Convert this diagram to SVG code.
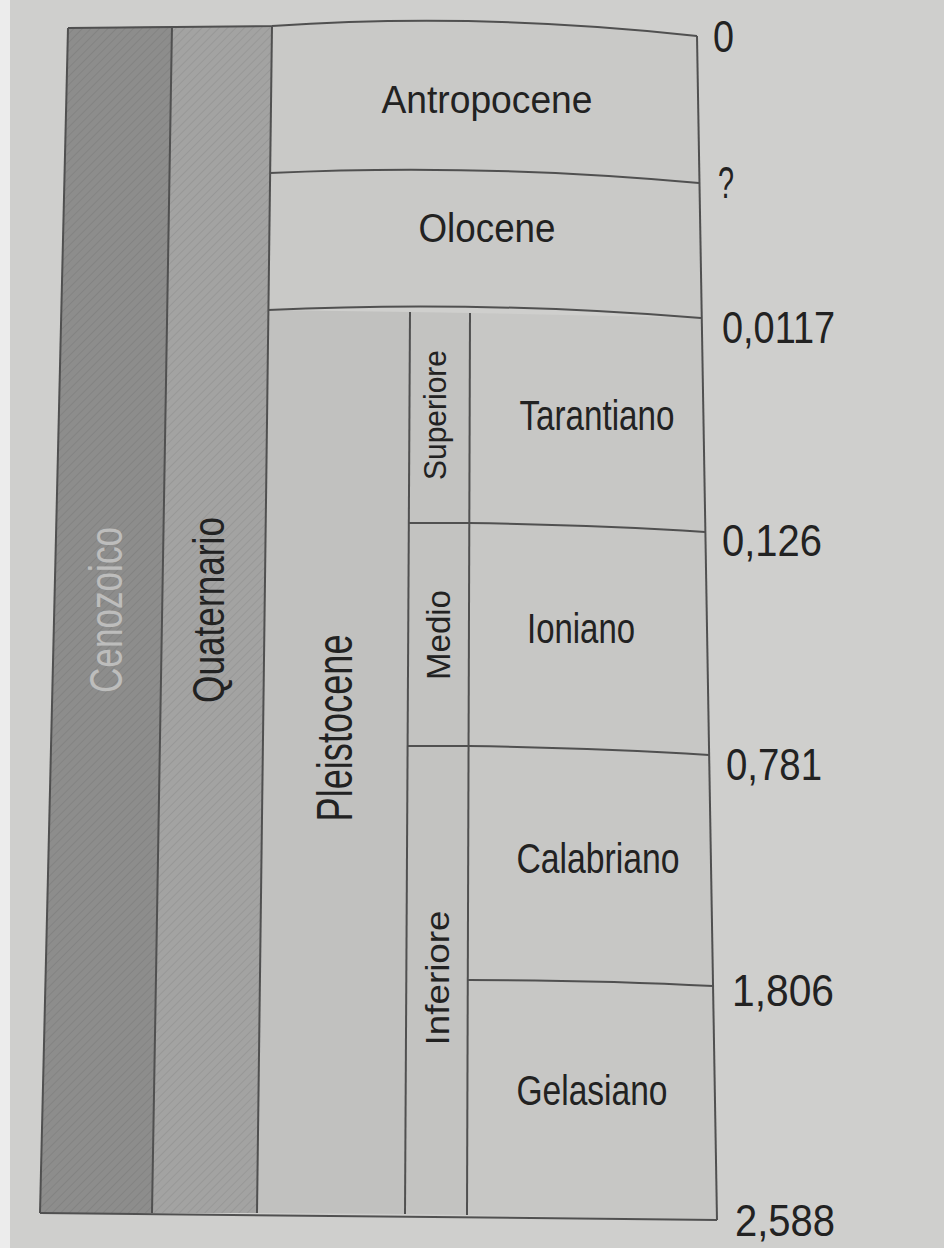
<svg xmlns="http://www.w3.org/2000/svg" width="944" height="1248" viewBox="0 0 944 1248">
<defs>
<pattern id="hatch" width="6" height="6" patternUnits="userSpaceOnUse" patternTransform="rotate(45)">
<line x1="0" y1="0" x2="0" y2="6" stroke="#000" stroke-opacity="0.07" stroke-width="2"/>
</pattern>
<style>
.ln{fill:none;stroke:#505050;stroke-width:2}
.t{font-family:"Liberation Sans",Arial,sans-serif;fill:#222;text-anchor:middle}
.n{font-family:"Liberation Sans",Arial,sans-serif;fill:#222;font-size:45px}
</style>
</defs>
<rect x="0" y="0" width="944" height="1248" fill="#cfcfcd"/>
<rect x="0" y="0" width="10" height="1248" fill="#ececec"/>
<g id="cenozoico">
<path d="M68,28 L172,26 L152,1213 L40,1213 Z" fill="#8d8d8c"/>
<path d="M68,28 L172,26 L152,1213 L40,1213 Z" fill="url(#hatch)"/>
<text class="t" transform="translate(122,610) rotate(-90)" font-size="46" textLength="166" lengthAdjust="spacingAndGlyphs" style="fill:#bdbdbc">Cenozoico</text>
</g>
<g id="quaternario">
<path d="M172,26 L272,26 L257,1213 L152,1213 Z" fill="#a3a3a2"/>
<path d="M172,26 L272,26 L257,1213 L152,1213 Z" fill="url(#hatch)"/>
<text class="t" transform="translate(224,610) rotate(-90)" font-size="45" textLength="186" lengthAdjust="spacingAndGlyphs">Quaternario</text>
</g>
<g id="antropocene">
<path d="M272,26 Q480,12 697,36 L699,183 Q480,163 270,173 Z" fill="#c9c9c7"/>
<text class="t" x="487" y="113" font-size="39" textLength="211" lengthAdjust="spacingAndGlyphs">Antropocene</text>
</g>
<g id="olocene">
<path d="M270,173 Q480,163 699,183 L701,318 Q480,300 268,310 Z" fill="#c9c9c7"/>
<text class="t" x="487" y="242" font-size="41" textLength="137" lengthAdjust="spacingAndGlyphs">Olocene</text>
</g>
<g id="pleistocene">
<path d="M268,310 L410,312 L405,1214 L257,1213 Z" fill="#c1c1bf"/>
<text class="t" transform="translate(352,728) rotate(-90)" font-size="50" textLength="187" lengthAdjust="spacingAndGlyphs">Pleistocene</text>
</g>
<g id="superiore">
<path d="M410,312 L470,313 L469,523 L409,523 Z" fill="#c3c3c1"/>
<text class="t" transform="translate(446,415) rotate(-90)" font-size="32" textLength="130" lengthAdjust="spacingAndGlyphs">Superiore</text>
</g>
<g id="medio">
<path d="M409,523 L469,523 L469,746 L408,746 Z" fill="#c3c3c1"/>
<text class="t" transform="translate(450,635) rotate(-90)" font-size="34" textLength="90" lengthAdjust="spacingAndGlyphs">Medio</text>
</g>
<g id="inferiore">
<path d="M408,746 L469,746 L467,1215 L405,1214 Z" fill="#c3c3c1"/>
<text class="t" transform="translate(449,978) rotate(-90)" font-size="34" textLength="135" lengthAdjust="spacingAndGlyphs">Inferiore</text>
</g>
<g id="tarantiano">
<path d="M470,313 L701,318 L705,532 Q600,525 469,523 Z" fill="#c7c7c5"/>
<text class="t" x="597" y="430" font-size="43" textLength="155" lengthAdjust="spacingAndGlyphs">Tarantiano</text>
</g>
<g id="ioniano">
<path d="M469,523 Q600,525 705,532 L709,755 Q600,748 469,746 Z" fill="#c7c7c5"/>
<text class="t" x="581" y="643" font-size="42" textLength="108" lengthAdjust="spacingAndGlyphs">Ioniano</text>
</g>
<g id="calabriano">
<path d="M469,746 Q600,748 709,755 L713,986 Q600,980 468,980 Z" fill="#c7c7c5"/>
<text class="t" x="598" y="873" font-size="43" textLength="163" lengthAdjust="spacingAndGlyphs">Calabriano</text>
</g>
<g id="gelasiano">
<path d="M468,980 Q600,980 713,986 L717,1220 L467,1215 Z" fill="#c7c7c5"/>
<text class="t" x="592" y="1105" font-size="42" textLength="151" lengthAdjust="spacingAndGlyphs">Gelasiano</text>
</g>
<g id="lines">
<path class="ln" d="M68,28 L272,26 Q480,12 697,36"/>
<path class="ln" d="M68,28 L40,1213"/>
<path class="ln" d="M172,26 L152,1213"/>
<path class="ln" d="M272,26 L257,1213"/>
<path class="ln" d="M697,36 L717,1220"/>
<path class="ln" d="M410,312 L405,1214"/>
<path class="ln" d="M470,313 L467,1215"/>
<path class="ln" d="M270,173 Q480,163 699,183"/>
<path class="ln" d="M268,310 Q480,300 701,318"/>
<path class="ln" d="M409,523 L469,523 Q600,525 705,532"/>
<path class="ln" d="M408,746 L469,746 Q600,748 709,755"/>
<path class="ln" d="M468,980 Q600,980 713,986"/>
<path class="ln" d="M40,1213 L717,1220"/>
</g>
<g id="ages">
<text class="n" x="713" y="52" font-size="35" textLength="21" lengthAdjust="spacingAndGlyphs">0</text>
<text class="n" x="718" y="198" font-size="32" textLength="16" lengthAdjust="spacingAndGlyphs">?</text>
<text class="n" x="722" y="343" textLength="113" lengthAdjust="spacingAndGlyphs">0,0117</text>
<text class="n" x="722" y="556" textLength="100" lengthAdjust="spacingAndGlyphs">0,126</text>
<text class="n" x="726" y="780" textLength="96" lengthAdjust="spacingAndGlyphs">0,781</text>
<text class="n" x="732" y="1006" textLength="102" lengthAdjust="spacingAndGlyphs">1,806</text>
<text class="n" x="735" y="1236" font-size="42" textLength="100" lengthAdjust="spacingAndGlyphs">2,588</text>
</g>
</svg>
